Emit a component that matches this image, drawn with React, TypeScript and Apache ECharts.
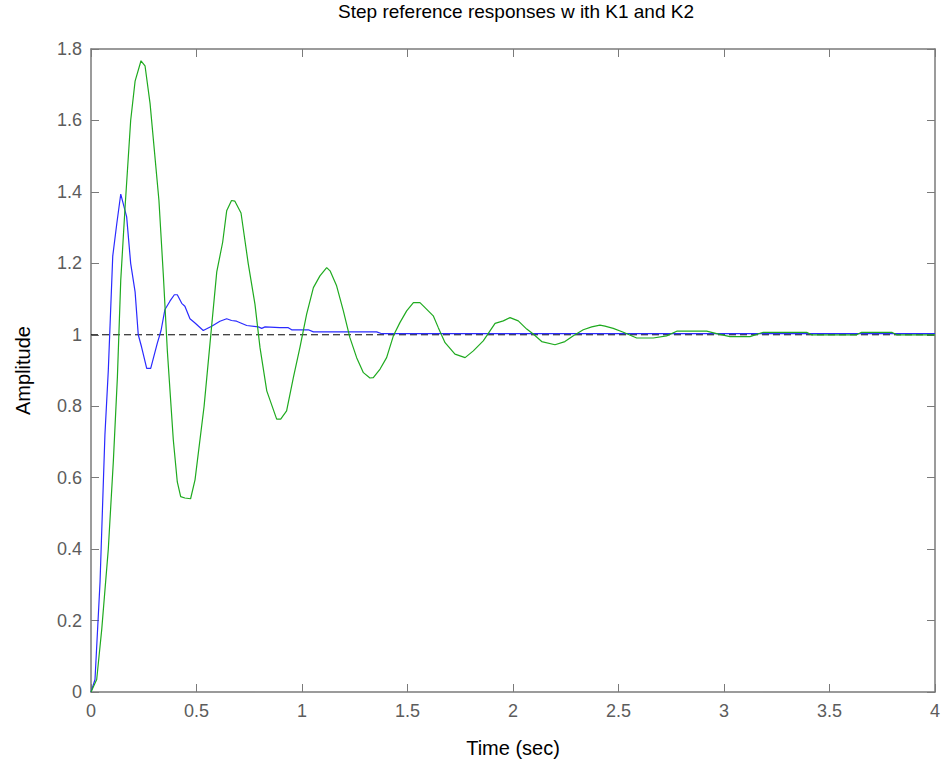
import React, { useEffect, useRef } from "react";
import * as echarts from "echarts";

const chartTitle = "Step reference responses w ith K1 and K2";
const xName = "Time (sec)";
const yName = "Amplitude";

const xTicks = { min: 0, max: 4, interval: 0.5 };
const yTicks = { min: 0, max: 1.8, interval: 0.2 };

const stepReference: [number, number][] = [
  [0, 1],
  [4, 1],
];

const responseK1: [number, number][] = [
  [0, 0], [0.019, 0.035], [0.043, 0.31], [0.066, 0.72], [0.082, 0.9], [0.103, 1.22],
  [0.122, 1.31], [0.141, 1.394], [0.169, 1.33], [0.188, 1.2], [0.209, 1.12], [0.224, 1.0],
  [0.24, 0.965], [0.264, 0.906], [0.283, 0.906], [0.314, 0.976], [0.332, 1.012], [0.35, 1.07],
  [0.374, 1.094], [0.395, 1.112], [0.409, 1.112], [0.43, 1.088], [0.445, 1.08], [0.469, 1.045],
  [0.493, 1.033], [0.532, 1.012], [0.572, 1.024], [0.611, 1.038], [0.643, 1.045], [0.666, 1.04],
  [0.69, 1.038], [0.738, 1.026], [0.793, 1.022], [0.809, 1.018], [0.825, 1.022], [0.895, 1.02],
  [0.935, 1.02], [0.951, 1.014], [1.03, 1.014], [1.054, 1.008], [1.354, 1.008], [1.378, 1.003],
  [4.0, 1.003],
];

const responseK2: [number, number][] = [
  [0, 0], [0.027, 0.035], [0.051, 0.176], [0.082, 0.4], [0.106, 0.647], [0.125, 0.88],
  [0.141, 1.153], [0.161, 1.353], [0.188, 1.6], [0.209, 1.71], [0.237, 1.767], [0.256, 1.753],
  [0.28, 1.647], [0.322, 1.376], [0.343, 1.165], [0.362, 0.953], [0.39, 0.706], [0.409, 0.588],
  [0.425, 0.547], [0.445, 0.543], [0.472, 0.541], [0.493, 0.594], [0.536, 0.8], [0.564, 0.976],
  [0.596, 1.176], [0.624, 1.259], [0.643, 1.347], [0.666, 1.376], [0.682, 1.374], [0.711, 1.341],
  [0.745, 1.2], [0.777, 1.086], [0.801, 0.964], [0.833, 0.843], [0.88, 0.764], [0.899, 0.764],
  [0.927, 0.787], [0.959, 0.88], [0.99, 0.964], [1.022, 1.058], [1.054, 1.132], [1.085, 1.165],
  [1.117, 1.188], [1.133, 1.179], [1.164, 1.137], [1.196, 1.067], [1.227, 0.992], [1.259, 0.936],
  [1.291, 0.894], [1.322, 0.879], [1.338, 0.88], [1.37, 0.904], [1.401, 0.936], [1.433, 0.997],
  [1.464, 1.034], [1.496, 1.067], [1.528, 1.09], [1.559, 1.09], [1.583, 1.076], [1.622, 1.053],
  [1.646, 1.02], [1.678, 0.978], [1.725, 0.946], [1.773, 0.936], [1.812, 0.955], [1.859, 0.983],
  [1.915, 1.032], [1.954, 1.039], [1.986, 1.048], [2.025, 1.039], [2.065, 1.016], [2.096, 1.002],
  [2.136, 0.981], [2.199, 0.972], [2.246, 0.981], [2.286, 0.997], [2.333, 1.014], [2.373, 1.022],
  [2.412, 1.027], [2.436, 1.024], [2.475, 1.018], [2.523, 1.007], [2.586, 0.991], [2.665, 0.991],
  [2.728, 0.997], [2.776, 1.01], [2.918, 1.01], [2.965, 1.003], [3.028, 0.995], [3.123, 0.995],
  [3.186, 1.007], [3.392, 1.007], [3.415, 1.0], [3.629, 1.0], [3.652, 1.007], [3.795, 1.007],
  [3.818, 1.0], [4.0, 1.0],
];

const FONT = "'Liberation Sans', Arial, Helvetica, sans-serif";
const AXIS_COLOR = "#7a7a7a";
const LABEL_COLOR = "#5c5c5c";

function mkLine() {
  return { show: true, onZero: false, lineStyle: { color: AXIS_COLOR, width: 1.5 } };
}
function mkTick() {
  return { show: true, inside: true, length: 8, lineStyle: { color: AXIS_COLOR, width: 1 } };
}

export default function App() {
  const ref = useRef<HTMLDivElement>(null);

  useEffect(() => {
    if (!ref.current) return;
    const chart = echarts.init(ref.current, undefined, { renderer: "svg" });

    chart.setOption({
      animation: false,
      backgroundColor: "#ffffff",
      title: {
        text: chartTitle,
        left: 511,
        textAlign: "center",
        top: -3,
        textStyle: { fontFamily: FONT, fontSize: 19, fontWeight: "normal", color: "#000000" },
      },
      grid: { left: 91, right: 10, top: 49, bottom: 75, containLabel: false },
      xAxis: [
        {
          type: "value",
          gridIndex: 0,
          show: true,
          min: xTicks.min,
          max: xTicks.max,
          interval: xTicks.interval,
          position: "bottom",
          name: xName,
          nameLocation: "middle",
          nameGap: 46,
          nameTextStyle: { fontFamily: FONT, fontSize: 20, color: "#000000" },
          axisLine: mkLine(),
          axisTick: mkTick(),
          splitLine: { show: false },
          axisLabel: { fontFamily: FONT, fontSize: 18, color: LABEL_COLOR, margin: 10 },
        },
        {
          type: "value",
          gridIndex: 0,
          show: true,
          min: xTicks.min,
          max: xTicks.max,
          interval: xTicks.interval,
          position: "top",
          axisLine: mkLine(),
          axisTick: mkTick(),
          splitLine: { show: false },
          axisLabel: { show: false },
        },
      ],
      yAxis: [
        {
          type: "value",
          gridIndex: 0,
          show: true,
          min: yTicks.min,
          max: yTicks.max,
          interval: yTicks.interval,
          position: "left",
          name: yName,
          nameLocation: "middle",
          nameGap: 58,
          nameTextStyle: { fontFamily: FONT, fontSize: 20, color: "#000000" },
          axisLine: mkLine(),
          axisTick: mkTick(),
          splitLine: { show: false },
          axisLabel: {
            fontFamily: FONT,
            fontSize: 18,
            color: LABEL_COLOR,
            margin: 9,
            formatter: (v: number) => String(Math.round(v * 10) / 10),
          },
        },
        {
          type: "value",
          gridIndex: 0,
          show: true,
          min: yTicks.min,
          max: yTicks.max,
          interval: yTicks.interval,
          position: "right",
          axisLine: mkLine(),
          axisTick: mkTick(),
          splitLine: { show: false },
          axisLabel: { show: false },
        },
      ],
      series: [
        {
          type: "line",
          xAxisIndex: 0,
          yAxisIndex: 0,
          data: stepReference,
          showSymbol: false,
          symbol: "none",
          lineStyle: { color: "#000000", width: 1, type: [7, 4] },
          z: 1,
        },
        {
          type: "line",
          xAxisIndex: 0,
          yAxisIndex: 0,
          data: responseK1,
          showSymbol: false,
          symbol: "none",
          lineStyle: { color: "#2a2aff", width: 1.2 },
          z: 2,
        },
        {
          type: "line",
          xAxisIndex: 0,
          yAxisIndex: 0,
          data: responseK2,
          showSymbol: false,
          symbol: "none",
          lineStyle: { color: "#1faa1f", width: 1.2 },
          z: 3,
        },
      ],
    });

    return () => chart.dispose();
  }, []);

  return (
    <div
      ref={ref}
      style={{ position: "fixed", left: 0, top: 0, width: 945, height: 767, background: "#fff" }}
    />
  );
}
